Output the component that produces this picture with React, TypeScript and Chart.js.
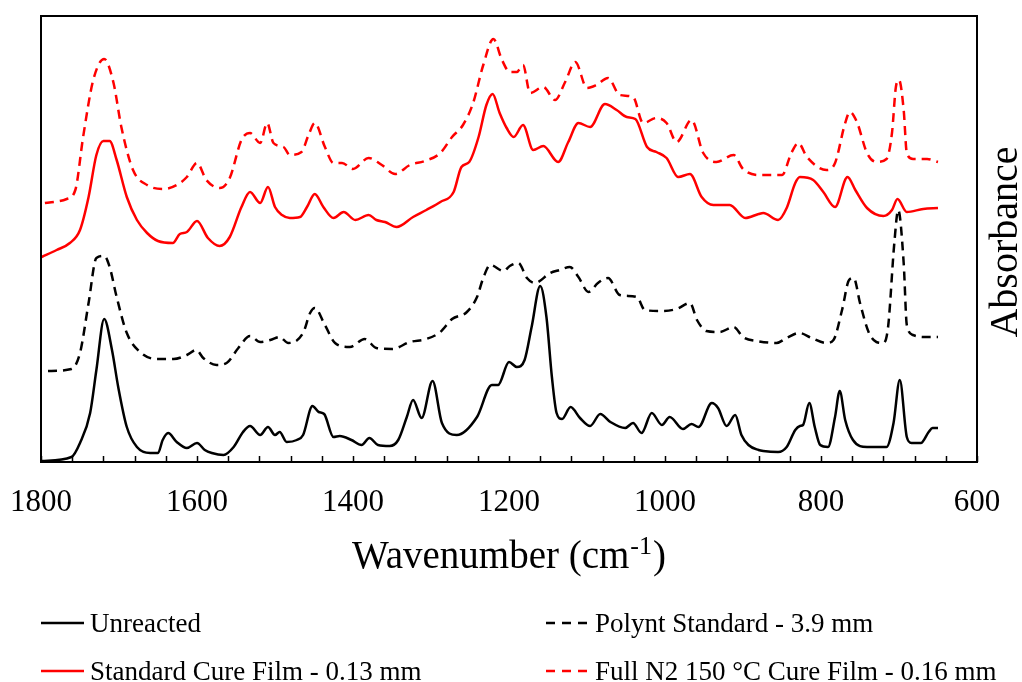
import React, { useEffect, useRef } from 'react';
import { Chart, registerables } from 'chart.js';

Chart.register(...registerables);

// ---- Data (wavenumber in cm-1, absorbance in arbitrary offset units) ----
const unreactedWn = [1799, 1761, 1750, 1737, 1729, 1719, 1709, 1701, 1690, 1677, 1660, 1650, 1644, 1637, 1626, 1613, 1600, 1590, 1581, 1566, 1553, 1541, 1532, 1519, 1509, 1500, 1494, 1485, 1472, 1464, 1452, 1444, 1437, 1425, 1417, 1402, 1389, 1379, 1368, 1353, 1342, 1331, 1323, 1312, 1298, 1286, 1267, 1241, 1222, 1214, 1200, 1190, 1180, 1171, 1160, 1152, 1145, 1139, 1132, 1121, 1109, 1096, 1083, 1070, 1051, 1041, 1030, 1017, 1004, 994, 977, 966, 957, 940, 932, 921, 910, 902, 893, 880, 874, 855, 844, 833, 827, 823, 815, 808, 801, 791, 782, 776, 769, 759, 741, 716, 707, 699, 690, 684, 672, 662, 657, 650];
const unreactedAbs = [1, 5, 19, 49, 92, 143, 112, 75, 35, 15, 9, 9, 22, 29, 20, 14, 19, 12, 9, 7, 15, 30, 36, 27, 35, 27, 30, 20, 22, 27, 56, 50, 48, 25, 26, 22, 17, 24, 17, 16, 22, 45, 62, 44, 81, 39, 27, 45, 77, 77, 100, 95, 102, 135, 176, 145, 85, 49, 43, 55, 44, 36, 48, 40, 34, 39, 29, 49, 37, 45, 33, 38, 35, 59, 54, 36, 47, 27, 17, 12, 11, 10, 15, 32, 36, 37, 59, 35, 17, 15, 45, 71, 42, 22, 15, 15, 39, 82, 25, 19, 19, 30, 34, 34];

const polyntWn = [1791, 1761, 1750, 1739, 1729, 1719, 1712, 1703, 1690, 1673, 1652, 1630, 1613, 1601, 1592, 1575, 1562, 1547, 1532, 1519, 1506, 1494, 1483, 1464, 1455, 1449, 1436, 1423, 1404, 1385, 1370, 1350, 1327, 1306, 1288, 1273, 1254, 1241, 1233, 1224, 1207, 1199, 1188, 1177, 1167, 1147, 1135, 1122, 1111, 1098, 1086, 1073, 1058, 1036, 1026, 1006, 985, 968, 959, 947, 930, 912, 900, 882, 857, 844, 828, 812, 793, 784, 773, 764, 758, 750, 739, 729, 720, 714, 706, 701, 694, 690, 682, 669, 650];
const polyntAbs = [91, 93, 109, 159, 204, 206, 195, 165, 129, 110, 103, 103, 107, 112, 104, 97, 99, 114, 126, 120, 122, 125, 119, 129, 149, 154, 137, 119, 115, 123, 114, 113, 120, 123, 130, 143, 150, 165, 184, 197, 191, 196, 199, 184, 179, 189, 192, 195, 185, 170, 179, 184, 167, 165, 152, 151, 153, 159, 142, 131, 130, 135, 125, 121, 119, 124, 129, 124, 119, 122, 152, 182, 184, 159, 130, 120, 119, 135, 219, 252, 199, 137, 127, 125, 125];

const stdCureWn = [1799, 1780, 1763, 1750, 1739, 1729, 1720, 1712, 1703, 1690, 1677, 1664, 1650, 1631, 1622, 1613, 1600, 1586, 1571, 1558, 1543, 1532, 1519, 1509, 1500, 1491, 1481, 1468, 1459, 1449, 1438, 1425, 1412, 1397, 1380, 1370, 1359, 1344, 1323, 1306, 1288, 1271, 1261, 1251, 1239, 1229, 1221, 1212, 1203, 1194, 1182, 1169, 1156, 1137, 1124, 1111, 1096, 1077, 1062, 1049, 1038, 1023, 1011, 998, 983, 968, 953, 938, 917, 897, 880, 874, 855, 844, 833, 827, 810, 797, 782, 766, 756, 741, 720, 709, 702, 690, 669, 650];
const stdCureAbs = [205, 212, 219, 232, 265, 307, 321, 321, 302, 265, 242, 229, 221, 219, 228, 230, 241, 224, 216, 225, 255, 270, 259, 275, 255, 247, 244, 245, 255, 268, 255, 244, 250, 242, 247, 242, 240, 235, 245, 252, 260, 270, 295, 300, 325, 357, 368, 349, 334, 325, 337, 312, 316, 300, 320, 339, 335, 358, 352, 345, 343, 315, 310, 304, 285, 288, 265, 257, 257, 244, 248, 249, 242, 254, 279, 285, 282, 270, 255, 285, 272, 254, 246, 252, 263, 250, 253, 254];

const fullN2Wn = [1795, 1767, 1756, 1746, 1733, 1719, 1707, 1697, 1682, 1664, 1643, 1626, 1613, 1600, 1588, 1571, 1558, 1543, 1532, 1519, 1510, 1502, 1489, 1481, 1466, 1457, 1449, 1436, 1425, 1414, 1400, 1380, 1363, 1346, 1327, 1308, 1288, 1273, 1259, 1246, 1233, 1220, 1209, 1199, 1190, 1182, 1173, 1156, 1141, 1128, 1115, 1100, 1088, 1073, 1058, 1041, 1028, 1011, 998, 985, 966, 951, 934, 912, 900, 880, 850, 838, 829, 818, 793, 782, 769, 763, 754, 741, 729, 716, 709, 704, 700, 694, 690, 682, 664, 650];
const fullN2Abs = [259, 263, 272, 325, 382, 403, 379, 335, 292, 277, 273, 277, 285, 299, 282, 274, 284, 322, 329, 319, 339, 319, 315, 307, 310, 327, 339, 315, 299, 299, 293, 304, 297, 288, 297, 301, 309, 325, 337, 359, 397, 423, 402, 390, 390, 397, 369, 375, 362, 380, 400, 374, 377, 384, 367, 365, 339, 344, 339, 320, 342, 309, 300, 307, 293, 287, 287, 309, 319, 305, 292, 299, 339, 350, 340, 309, 300, 303, 329, 375, 382, 352, 309, 303, 303, 300];

const seriesLabels = [
  'Unreacted',
  'Polynt Standard - 3.9 mm',
  'Standard Cure Film - 0.13 mm',
  'Full N2 150 °C Cure Film - 0.16 mm',
];
const seriesColors = ['#000000', '#000000', '#ff0000', '#ff0000'];
const seriesDashed = [false, true, false, true];

const xMin = 600;
const xMax = 1800;
const xTickStep = 40;
const xLabelStep = 200;
const yMin = 0;
const yMax = 446;

const xTitleMain = 'Wavenumber (cm';
const xTitleSup = '-1';
const xTitleEnd = ')';
const yTitle = 'Absorbance';

const FONT = '"Liberation Serif", "Times New Roman", Times, serif';
const DASH = [9, 6];

function toPoints(wn: number[], abs: number[]) {
  return wn.map((w, i) => ({ x: w, y: abs[i] }));
}

const decorPlugin = {
  id: 'decor',
  afterDraw(chart: any) {
    const { ctx, chartArea } = chart;
    const { left, right, top, bottom } = chartArea;
    const x = chart.scales.x;
    ctx.save();
    // frame
    ctx.strokeStyle = '#000';
    ctx.lineWidth = 2;
    ctx.setLineDash([]);
    ctx.strokeRect(left, top, right - left, bottom - top);
    // inward tick marks
    ctx.lineWidth = 1.5;
    ctx.beginPath();
    x.ticks.forEach((t: any) => {
      const px = Math.round(x.getPixelForValue(t.value)) + 0.5;
      ctx.moveTo(px, bottom);
      ctx.lineTo(px, bottom - 6);
    });
    ctx.stroke();

    // x title with superscript
    ctx.fillStyle = '#000';
    ctx.textBaseline = 'alphabetic';
    ctx.textAlign = 'left';
    const mainFont = `39px ${FONT}`;
    const supFont = `26px ${FONT}`;
    ctx.font = mainFont;
    const w1 = ctx.measureText(xTitleMain).width;
    const w3 = ctx.measureText(xTitleEnd).width;
    ctx.font = supFont;
    const w2 = ctx.measureText(xTitleSup).width;
    const total = w1 + w2 + w3 + 2;
    const cx = (left + right) / 2;
    let sx = cx - total / 2;
    const base = 568;
    ctx.font = mainFont;
    ctx.fillText(xTitleMain, sx, base);
    sx += w1 + 1;
    ctx.font = supFont;
    ctx.fillText(xTitleSup, sx, base - 14);
    sx += w2 + 1;
    ctx.font = mainFont;
    ctx.fillText(xTitleEnd, sx, base);

    // y title on right, reading bottom-to-top
    ctx.save();
    ctx.translate(1017, (top + bottom) / 2 + 3);
    ctx.rotate(-Math.PI / 2);
    ctx.font = `40px ${FONT}`;
    ctx.textAlign = 'center';
    ctx.textBaseline = 'alphabetic';
    ctx.fillText(yTitle, 0, 0);
    ctx.restore();

    // legend (2 columns x 2 rows)
    const colX = [41, 546];
    const rowY = [623, 671];
    chart.data.datasets.forEach((ds: any, i: number) => {
      const lx = colX[i % 2];
      const ly = rowY[Math.floor(i / 2)];
      ctx.strokeStyle = ds.borderColor;
      ctx.lineWidth = 2.5;
      ctx.setLineDash(ds.borderDash && ds.borderDash.length ? [9, 7] : []);
      ctx.beginPath();
      ctx.moveTo(lx, ly);
      ctx.lineTo(lx + 43, ly);
      ctx.stroke();
      ctx.setLineDash([]);
      ctx.fillStyle = '#000';
      ctx.font = `27px ${FONT}`;
      ctx.textAlign = 'left';
      ctx.textBaseline = 'alphabetic';
      ctx.fillText(ds.label, lx + 49, ly + 9);
    });
    ctx.restore();
  },
};

export default function App() {
  const canvasRef = useRef<HTMLCanvasElement | null>(null);

  useEffect(() => {
    document.body.style.margin = '0';
    const canvas = canvasRef.current;
    if (!canvas) return;
    const series = [
      toPoints(unreactedWn, unreactedAbs),
      toPoints(polyntWn, polyntAbs),
      toPoints(stdCureWn, stdCureAbs),
      toPoints(fullN2Wn, fullN2Abs),
    ];
    const chart = new Chart(canvas, {
      type: 'line',
      data: {
        datasets: series.map((data, i) => ({
          label: seriesLabels[i],
          data,
          borderColor: seriesColors[i],
          backgroundColor: seriesColors[i],
          borderWidth: 2.5,
          borderDash: seriesDashed[i] ? DASH : [],
          pointRadius: 0,
          fill: false,
          tension: 0.4,
          cubicInterpolationMode: 'monotone',
        })),
      },
      options: {
        responsive: false,
        animation: false,
        events: [],
        layout: { padding: { left: 41, right: 45, top: 16, bottom: 0 } },
        plugins: {
          legend: { display: false },
          tooltip: { enabled: false },
          title: { display: false },
        },
        scales: {
          x: {
            type: 'linear',
            reverse: true,
            min: xMin,
            max: xMax,
            grid: { display: false, drawTicks: false },
            border: { display: false },
            ticks: {
              stepSize: xTickStep,
              autoSkip: false,
              maxRotation: 0,
              minRotation: 0,
              padding: 22,
              color: '#000',
              font: { family: FONT, size: 31 },
              callback: (v: any) => (Number(v) % xLabelStep === 0 ? String(v) : ''),
            },
            afterFit: (s: any) => {
              s.height = 220;
              s.paddingLeft = 0;
              s.paddingRight = 0;
            },
          },
          y: {
            display: false,
            min: yMin,
            max: yMax,
          },
        },
      },
      plugins: [decorPlugin],
    } as any);
    return () => chart.destroy();
  }, []);

  return (
    <div style={{ width: 1022, height: 682, background: '#fff' }}>
      <canvas ref={canvasRef} width={1022} height={682} style={{ display: 'block' }} />
    </div>
  );
}
